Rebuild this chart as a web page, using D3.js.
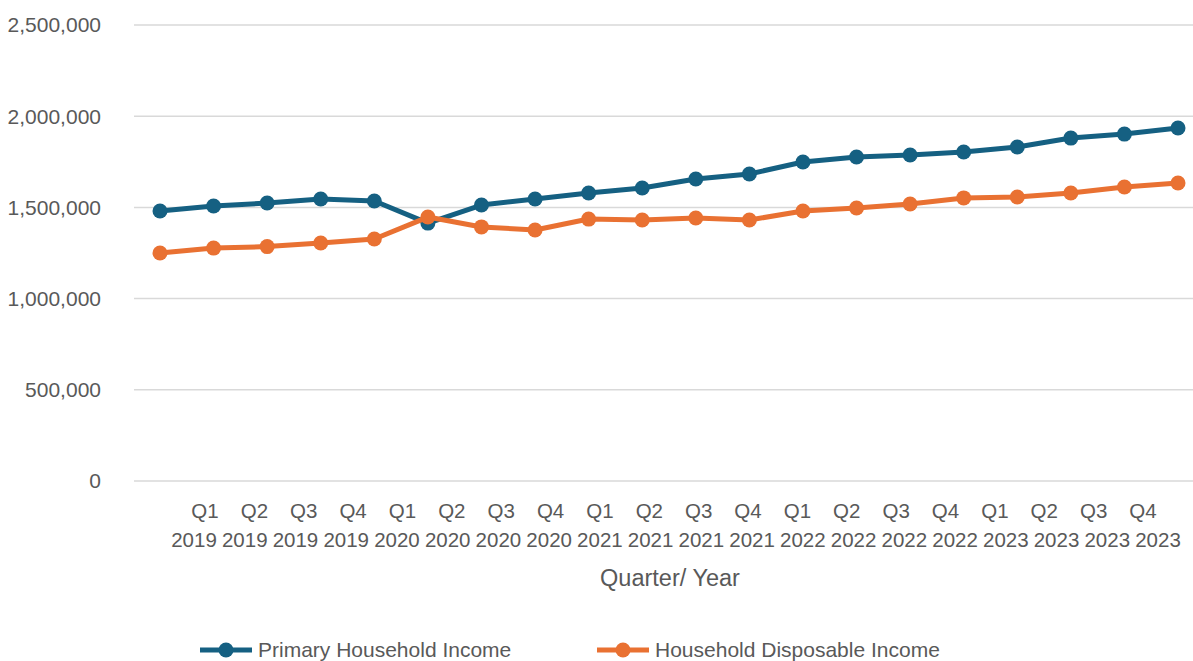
<!DOCTYPE html>
<html><head><meta charset="utf-8">
<script src="https://cdn.jsdelivr.net/npm/d3@7"></script>
<style>body{margin:0;background:#fff}svg{display:block}</style>
</head><body>
<svg id="c" width="1193" height="661"></svg>
<script>
const quarters = ["Q1","Q2","Q3","Q4","Q1","Q2","Q3","Q4","Q1","Q2","Q3","Q4","Q1","Q2","Q3","Q4","Q1","Q2","Q3","Q4"];
const years = ["2019","2019","2019","2019","2020","2020","2020","2020","2021","2021","2021","2021","2022","2022","2022","2022","2023","2023","2023","2023"];
const primaryIncome = [1480000,1508000,1524000,1546000,1535000,1414000,1513000,1546000,1579000,1606000,1656000,1683000,1749000,1776000,1787000,1804000,1831000,1880000,1902000,1935000];
const disposableIncome = [1250000,1277000,1285000,1305000,1327000,1447000,1393000,1376000,1436000,1431000,1442000,1431000,1480000,1497000,1519000,1552000,1557000,1579000,1612000,1634000];
const yTicks = [0,500000,1000000,1500000,2000000,2500000];
const seriesNames = ["Primary Household Income","Household Disposable Income"];

const blue = "#156082", orange = "#E97132", txt = "#595959";
const font = "'Liberation Sans', Arial, sans-serif";
const svg = d3.select("#c");
const idx = d3.range(quarters.length);
const x = d3.scalePoint().domain(idx).range([160, 1178]);
const xq = d3.scalePoint().domain(idx).range([205, 1143]);
const xy = d3.scalePoint().domain(idx).range([194, 1158]);
const y = d3.scaleLinear().domain([0, 2500000]).range([481, 25]);

// gridlines
svg.append("g").selectAll("line").data(yTicks).join("line")
  .attr("x1", 134).attr("x2", 1193)
  .attr("y1", d => y(d)).attr("y2", d => y(d))
  .attr("stroke", "#d9d9d9").attr("stroke-width", 1.5);

// y labels
svg.append("g").selectAll("text").data(yTicks).join("text")
  .attr("x", 101).attr("y", d => y(d)).attr("dy", "0.35em")
  .attr("text-anchor", "end").attr("fill", txt)
  .style("font-family", font).style("font-size", "21px")
  .text(d => d3.format(",")(d));

// x labels
const xg = svg.append("g").selectAll("text").data(idx).join("text")
  .attr("text-anchor", "middle").attr("fill", txt)
  .style("font-family", font).style("font-size", "20.5px");
xg.append("tspan").attr("x", d => xq(d)).attr("y", 518).text(d => quarters[d]);
xg.append("tspan").attr("x", d => xy(d)).attr("y", 547).text(d => years[d]);

svg.append("text").attr("x", 670).attr("y", 586).attr("text-anchor", "middle")
  .attr("fill", txt).style("font-family", font).style("font-size", "23.5px")
  .text("Quarter/ Year");

const line = d3.line().x((d, i) => x(i)).y(d => y(d));
[[primaryIncome, blue], [disposableIncome, orange]].forEach(([data, col]) => {
  svg.append("path").datum(data).attr("d", line).attr("fill", "none")
    .attr("stroke", col).attr("stroke-width", 5).attr("stroke-linejoin", "round");
  svg.append("g").selectAll("circle").data(data).join("circle")
    .attr("cx", (d, i) => x(i)).attr("cy", d => y(d)).attr("r", 7.5).attr("fill", col);
});

// legend
const legend = [{name: seriesNames[0], col: blue, x: 200}, {name: seriesNames[1], col: orange, x: 597}];
const lg = svg.append("g").selectAll("g").data(legend).join("g")
  .attr("transform", d => `translate(${d.x},650)`);
lg.append("line").attr("x1", 0).attr("x2", 52).attr("stroke", d => d.col).attr("stroke-width", 5);
lg.append("circle").attr("cx", 26).attr("r", 7.5).attr("fill", d => d.col);
lg.append("text").attr("x", 58).attr("dy", "0.35em").attr("fill", txt)
  .style("font-family", font).style("font-size", "21px").text(d => d.name);
</script>
</body></html>
